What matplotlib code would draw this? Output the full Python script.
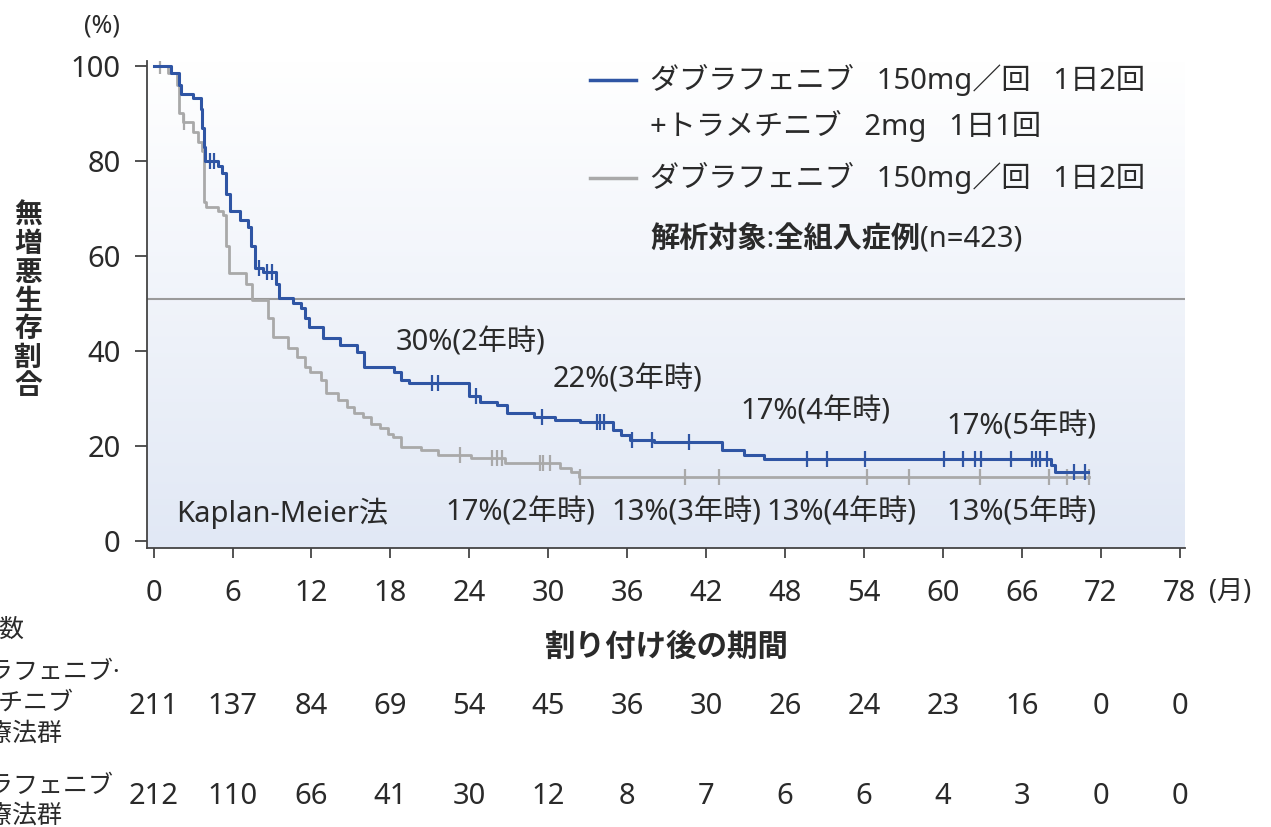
import numpy as np
import matplotlib.pyplot as plt
from matplotlib.colors import LinearSegmentedColormap
from matplotlib.lines import Line2D
from matplotlib.transforms import blended_transform_factory

plt.rcParams['font.family'] = ['Noto Sans', 'Noto Sans CJK JP', 'DejaVu Sans']

# ダブラフェニブ+トラメチニブ (step start times / survival %)
dt_time = [0, 1.3, 1.9, 2.1, 3.0, 3.6, 3.7, 3.8, 3.9, 4.9, 5.2, 5.5, 5.8, 6.6, 7.2,
           7.4, 7.7, 8.3, 9.3, 9.5, 10.6, 11.2, 11.5, 11.8, 12.9, 14.2, 15.5, 16.0,
           18.3, 18.8, 19.4, 24.0, 24.8, 26.1, 26.9, 28.9, 30.5, 32.4, 34.9, 35.5,
           36.2, 38.0, 43.2, 44.9, 46.4, 68.2, 68.5]
dt_surv = [100, 98.5, 96, 94, 93.3, 91, 87, 83, 80, 79, 77.5, 73, 69.5, 67.6, 66,
           62, 57.5, 56.5, 54, 51.2, 50, 49, 47, 45, 42.7, 41.3, 39.8, 36.6,
           35.6, 33.9, 33.3, 30.5, 29.3, 28.6, 26.9, 26.1, 25.5, 25, 23.4, 22.3,
           21.3, 20.8, 19.2, 18.1, 17.3, 16, 14.5]
dt_end = 71.0
dt_cens = [4.3, 4.6, 8.0, 8.6, 9.0, 21.2, 21.6, 24.5, 29.5, 33.7, 33.9, 34.2, 36.4,
           37.9, 40.7, 49.7, 51.2, 54.1, 60.1, 61.5, 62.4, 62.9, 65.2, 66.8, 67.1,
           67.4, 67.9, 70.0, 70.8]

# ダブラフェニブ単独
d_time = [0, 1.1, 1.8, 1.9, 2.2, 3.0, 3.4, 3.7, 3.8, 4.0, 4.9, 5.3, 5.5, 5.7, 7.0,
          7.5, 8.7, 9.1, 10.2, 10.9, 11.5, 11.9, 12.7, 13.1, 14.0, 14.7, 15.2, 15.9,
          16.5, 17.2, 17.8, 18.2, 18.8, 20.3, 21.6, 24.1, 26.7, 30.9, 31.7, 32.3]
d_surv = [100, 98.5, 96, 90, 88.2, 86, 84, 82, 71.4, 70.3, 69.5, 68.6, 62, 56.4, 54,
          50.7, 47, 43, 40.5, 38.7, 36.5, 35.6, 33.9, 31.1, 29.7, 28.2, 27, 26.1,
          24.5, 23.8, 22.5, 21.9, 19.8, 19.2, 18.1, 17.5, 16.4, 15.4, 14.5, 13.5]
d_end = 71.1
d_cens = [0.5, 2.3, 23.3, 25.7, 26.1, 26.5, 29.4, 29.6, 30.1, 32.4, 40.4, 43.0,
          54.2, 57.4, 62.8, 68.1, 69.4, 71.1]

months = list(range(0, 79, 6))
risk_dt = [211, 137, 84, 69, 54, 45, 36, 30, 26, 24, 23, 16, 0, 0]
risk_d = [212, 110, 66, 41, 30, 12, 8, 7, 6, 6, 4, 3, 0, 0]

BLUE = '#2f55a4'
GRAY = '#a9a9a9'
TXT = '#2a2a2a'
W, H = 1271, 827


def fx(px):
    return px / W


def fy(py):
    return 1 - py / H


def km(ax, t, s, end, cens, color, lw):
    tt = list(t) + [end]
    ss = list(s) + [s[-1]]
    ax.step(tt, ss, where='post', color=color, lw=lw, zorder=3)
    idx = np.searchsorted(t, cens, side='right') - 1
    ax.plot(cens, np.array(s)[idx], ls='none', marker='|', ms=11, mew=1.6,
            color=color, zorder=3)


fig = plt.figure(figsize=(W / 100, H / 100), dpi=100)
ax = fig.add_axes([fx(147), fy(548), fx(1185) - fx(147), fy(61) - fy(548)])
xmin, xmax, ymin, ymax = -0.5, 78.4, -1.5, 101
ax.set_xlim(xmin, xmax)
ax.set_ylim(ymin, ymax)

# background gradient
grad = np.linspace(0, 1, 256).reshape(-1, 1)
cmap = LinearSegmentedColormap.from_list('bg', ['#ffffff', '#e1e8f5'])
ax.imshow(grad, extent=[xmin, xmax, ymin, ymax], aspect='auto', cmap=cmap,
          origin='upper', zorder=0)

ax.axhline(51, color='#9a9a9a', lw=1.5, zorder=1)

km(ax, d_time, d_surv, d_end, d_cens, GRAY, 2.0)
km(ax, dt_time, dt_surv, dt_end, dt_cens, BLUE, 2.2)

for s in ['top', 'right']:
    ax.spines[s].set_visible(False)
for s in ['left', 'bottom']:
    ax.spines[s].set_color('#444444')
    ax.spines[s].set_linewidth(1.3)

ax.set_yticks([0, 20, 40, 60, 80, 100])
ax.set_xticks(months)
ax.tick_params(axis='y', length=9, width=1.3, color='#444444', pad=10,
               labelsize=21, labelcolor=TXT)
ax.tick_params(axis='x', length=7, width=1.3, color='#444444', pad=15,
               labelsize=21, labelcolor=TXT)

# annotations
ann_top = [(24.1, 41.7, '30%(2年時)'), (36.0, 33.9, '22%(3年時)'),
           (50.3, 27.2, '17%(4年時)'), (66.0, 24.0, '17%(5年時)')]
ann_bot = [(9.8, 5.9, 'Kaplan-Meier法'), (27.9, 5.9, '17%(2年時)'),
           (40.5, 5.9, '13%(3年時)'), (52.3, 5.9, '13%(4年時)'),
           (66.0, 5.9, '13%(5年時)')]
for x, y, t in ann_top + ann_bot:
    ax.text(x, y, t, ha='center', va='center', fontsize=21, color=TXT, zorder=4)

# legend
fig.add_artist(Line2D([fx(590), fx(636)], [fy(80), fy(80)], color=BLUE, lw=2.5))
fig.add_artist(Line2D([fx(590), fx(636)], [fy(178), fy(178)], color=GRAY, lw=2.5))
fig.text(fx(650), fy(80), 'ダブラフェニブ   150mg／回   1日2回', va='center',
         fontsize=21, color=TXT)
fig.text(fx(650), fy(126), '+トラメチニブ   2mg   1日1回', va='center',
         fontsize=21, color=TXT)
fig.text(fx(650), fy(178), 'ダブラフェニブ   150mg／回   1日2回', va='center',
         fontsize=21, color=TXT)
fig.text(fx(650), fy(240), '解析対象:全組入症例(n=423)', va='center',
         fontsize=21, color=TXT, fontweight='bold')

# axis labels
fig.text(fx(102), fy(26), '(%)', ha='center', va='center', fontsize=18, color=TXT)
fig.text(fx(28), fy(302), '\n'.join('無増悪生存割合'), ha='center', va='center',
         fontsize=20, fontweight='bold', color=TXT, linespacing=1.02)
fig.text(fx(1230), fy(592), '(月)', ha='center', va='center', fontsize=19, color=TXT)
fig.text(fx(667), fy(648), '割り付け後の期間', ha='center', va='center',
         fontsize=22, fontweight='bold', color=TXT)

# numbers at risk
tr = blended_transform_factory(ax.transData, fig.transFigure)
for m, a, b in zip(months, risk_dt, risk_d):
    ax.text(m, fy(707), str(a), transform=tr, ha='center', va='center',
            fontsize=21, color=TXT, clip_on=False)
    ax.text(m, fy(797), str(b), transform=tr, ha='center', va='center',
            fontsize=21, color=TXT, clip_on=False)

# row labels (left part runs off the canvas, as in the source image)
row_lines = [(-50, 630, '患者数'),
             (-62, 673, 'ダブラフェニブ·'), (-76, 703, 'トラメチニブ'),
             (-62, 734, '併用療法群'),
             (-62, 787, 'ダブラフェニブ'), (-62, 816, '単独療法群')]
for x, y, t in row_lines:
    fig.text(fx(x), fy(y), t, va='center', fontsize=18, color=TXT)

fig.savefig('out.png', dpi=100)
